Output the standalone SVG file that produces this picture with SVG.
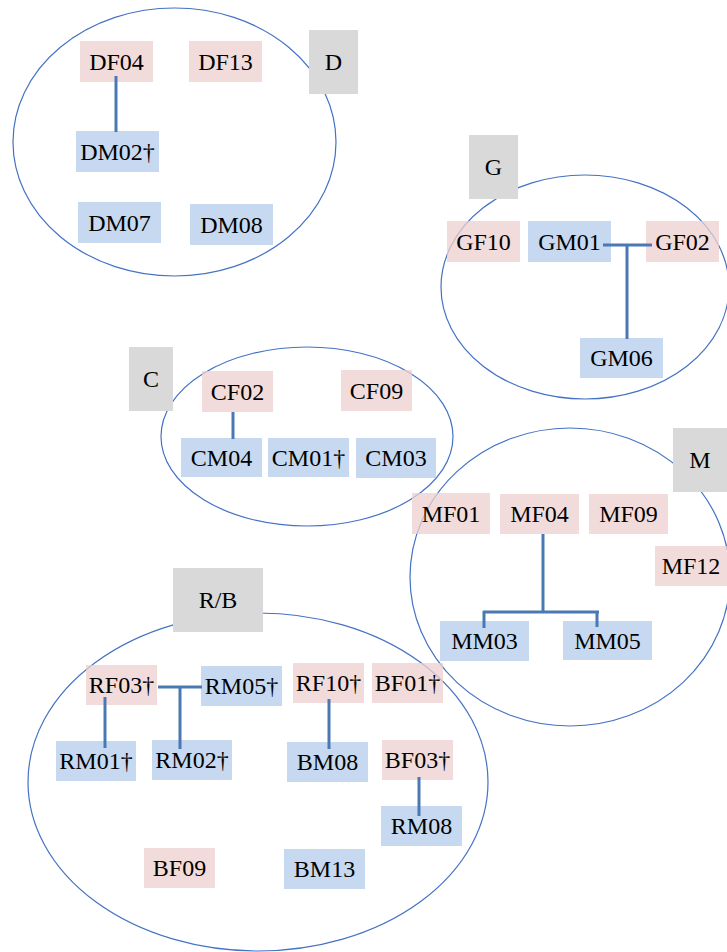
<svg xmlns="http://www.w3.org/2000/svg" width="727" height="952" viewBox="0 0 727 952">
<style>
.ring{fill:none;stroke:#4472c4;stroke-width:1.2}
.f{fill:#eed0cf;fill-opacity:0.75}
.m{fill:#b3ccec;fill-opacity:0.75}
.g{fill:#d9d9d9}
.c{stroke:#4a78b4;stroke-width:3;fill:none}
</style>
<rect width="727" height="952" fill="#fff"/>
<g id="clusters">
<ellipse class="ring" cx="174.5" cy="142" rx="161.5" ry="134"/>
<ellipse class="ring" cx="585" cy="287" rx="144" ry="112"/>
<ellipse class="ring" cx="307" cy="436.5" rx="146" ry="89.5"/>
<ellipse class="ring" cx="570" cy="577" rx="160" ry="149"/>
<ellipse class="ring" cx="258" cy="782" rx="230" ry="169"/>
</g>
<g font-family="Liberation Serif, DejaVu Serif, serif" font-size="24" fill="#000" text-anchor="middle">
<g id="nodes">
<g id="DF04"><rect class="f" x="80" y="41" width="73" height="41"/><text x="116.5" y="69.5">DF04</text></g>
<g id="DF13"><rect class="f" x="189" y="41" width="73" height="41"/><text x="225.5" y="69.5">DF13</text></g>
<g id="DM02"><rect class="m" x="76" y="131" width="83" height="41"/><text x="117.5" y="159.5">DM02†</text></g>
<g id="DM07"><rect class="m" x="78" y="202" width="83" height="41"/><text x="119.5" y="230.5">DM07</text></g>
<g id="DM08"><rect class="m" x="190" y="204" width="83" height="41"/><text x="231.5" y="232.5">DM08</text></g>
<g id="GF10"><rect class="f" x="447" y="221" width="73" height="41"/><text x="483.5" y="249.5">GF10</text></g>
<g id="GM01"><rect class="m" x="528" y="221" width="83" height="41"/><text x="569.5" y="249.5">GM01</text></g>
<g id="GF02"><rect class="f" x="646" y="221" width="73" height="41"/><text x="682.5" y="249.5">GF02</text></g>
<g id="GM06"><rect class="m" x="580" y="338" width="83" height="40"/><text x="621.5" y="366">GM06</text></g>
<g id="CF02"><rect class="f" x="202" y="371" width="71" height="41"/><text x="237.5" y="399.5">CF02</text></g>
<g id="CF09"><rect class="f" x="341" y="370" width="71" height="41"/><text x="376.5" y="398.5">CF09</text></g>
<g id="CM04"><rect class="m" x="181" y="438" width="81" height="39"/><text x="221.5" y="465.5">CM04</text></g>
<g id="CM01"><rect class="m" x="268" y="438" width="81" height="39"/><text x="308.5" y="465.5">CM01†</text></g>
<g id="CM03"><rect class="m" x="356" y="438" width="80" height="40"/><text x="396" y="466">CM03</text></g>
<g id="MF01"><rect class="f" x="412" y="493" width="78" height="41"/><text x="451" y="521.5">MF01</text></g>
<g id="MF04"><rect class="f" x="500" y="494" width="79" height="40"/><text x="539.5" y="522">MF04</text></g>
<g id="MF09"><rect class="f" x="589" y="494" width="79" height="40"/><text x="628.5" y="522">MF09</text></g>
<g id="MF12"><rect class="f" x="655" y="546" width="72" height="40"/><text x="691" y="574">MF12</text></g>
<g id="MM03"><rect class="m" x="440" y="621" width="89" height="40"/><text x="484.5" y="649">MM03</text></g>
<g id="MM05"><rect class="m" x="563" y="621" width="89" height="39"/><text x="607.5" y="648.5">MM05</text></g>
<g id="RF03"><rect class="f" x="86" y="665" width="71" height="40"/><text x="121.5" y="693">RF03†</text></g>
<g id="RM05"><rect class="m" x="201" y="666" width="81" height="40"/><text x="241.5" y="694">RM05†</text></g>
<g id="RF10"><rect class="f" x="293" y="663" width="71" height="40"/><text x="328.5" y="691">RF10†</text></g>
<g id="BF01"><rect class="f" x="372" y="663" width="71" height="40"/><text x="407.5" y="691">BF01†</text></g>
<g id="RM01"><rect class="m" x="56" y="741" width="80" height="40"/><text x="96" y="769">RM01†</text></g>
<g id="RM02"><rect class="m" x="152" y="740" width="80" height="40"/><text x="192" y="768">RM02†</text></g>
<g id="BM08"><rect class="m" x="287" y="742" width="81" height="40"/><text x="327.5" y="770">BM08</text></g>
<g id="BF03"><rect class="f" x="382" y="740" width="71" height="40"/><text x="417.5" y="768">BF03†</text></g>
<g id="RM08"><rect class="m" x="381" y="806" width="81" height="40"/><text x="421.5" y="834">RM08</text></g>
<g id="BF09"><rect class="f" x="144" y="848" width="71" height="40"/><text x="179.5" y="876">BF09</text></g>
<g id="BM13"><rect class="m" x="284" y="849" width="81" height="40"/><text x="324.5" y="877">BM13</text></g>
</g>
<g id="labels">
<g id="label-D"><rect class="g" x="309" y="30" width="49" height="64"/><text x="333.5" y="70">D</text></g>
<g id="label-G"><rect class="g" x="469" y="135" width="49" height="64"/><text x="493.5" y="175">G</text></g>
<g id="label-C"><rect class="g" x="129" y="347" width="44" height="64"/><text x="151" y="387">C</text></g>
<g id="label-M"><rect class="g" x="673" y="428" width="54" height="64"/><text x="700" y="468">M</text></g>
<g id="label-RB"><rect class="g" x="173" y="568" width="90" height="64"/><text x="218" y="608">R/B</text></g>
</g>
</g>
<g id="connectors">
<path class="c" d="M116 76V132"/>
<path class="c" d="M603 245H652M627 245V339"/>
<path class="c" d="M233 412V439"/>
<path class="c" d="M543 534V612M483 612H599M484 611V628M597 611V627"/>
<path class="c" d="M105 697V748"/>
<path class="c" d="M158 687H202M180 687V749"/>
<path class="c" d="M329 699V749"/>
<path class="c" d="M419 777V816"/>
</g>
</svg>
